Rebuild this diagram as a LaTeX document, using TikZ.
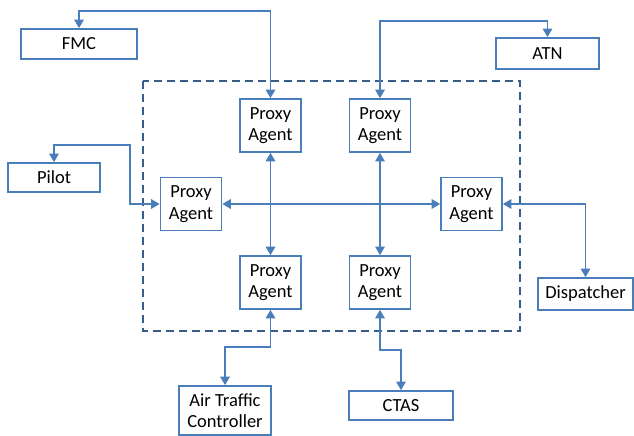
\documentclass[tikz,border=0pt]{standalone}
\usepackage{fontspec}
\setmainfont{Carlito}
\usepackage{xcolor}
\usepackage{tikz}
\usetikzlibrary{arrows.meta, positioning}

\definecolor{linkblue}{RGB}{74,126,187}
\definecolor{frameblue}{RGB}{56,93,138}

\begin{document}
\begin{tikzpicture}[x=1pt, y=-1pt,
  font=\fontsize{18.5}{21.5}\selectfont,
  block/.style={draw=linkblue, rectangle, line width=1.7pt, inner sep=0pt, align=center},
  proxy/.style={block, minimum width=61pt, minimum height=53pt},
  link/.style={{Triangle[length=8.5pt, width=9.5pt]}-{Triangle[length=8.5pt, width=9.5pt]}, linkblue, line width=1.5pt}
]
\useasboundingbox (0,0) rectangle (634,436);

% Dashed frame round the agents
\draw[frameblue, line width=1.8pt, dash pattern=on 8pt off 5pt] (143,81) rectangle (520,331);

% Proxy agents
\node[proxy] (ptl) at (270.5,125.5) {Proxy\\Agent};
\node[proxy] (ptr) at (380,125.5) {Proxy\\Agent};
\node[proxy] (pl) at (191,204) {Proxy\\Agent};
\node[proxy] (pr) at (471.5,204) {Proxy\\Agent};
\node[proxy] (pbl) at (270.5,282.5) {Proxy\\Agent};
\node[proxy] (pbr) at (380,282.5) {Proxy\\Agent};

% Outside parties
\node[block, minimum width=116pt, minimum height=30pt] (fmc) at (79,44) {FMC};
\node[block, minimum width=103pt, minimum height=31pt] (atn) at (547.5,53.5) {ATN};
\node[block, minimum width=92pt, minimum height=29pt] (pilot) at (54,177.5) {Pilot};
\node[block, minimum width=95pt, minimum height=32pt] (disp) at (585.5,294) {Dispatcher};
\node[block, minimum width=92pt, minimum height=49pt] (atc) at (225,410.5) {Air Traffic\\Controller};
\node[block, minimum width=104pt, minimum height=29pt] (ctas) at (401,405.5) {CTAS};

% Links between agents
\draw[link] (pl) -- (pr);
\draw[link] (ptl) -- (pbl);
\draw[link] (ptr) -- (pbr);

% Links to outside parties
\draw[link] (ptl.north) -- (ptl.north |- 0,11) -| (fmc.north);
\draw[link] (ptr.north) -- (ptr.north |- 0,21) -| (atn.north);
\draw[link] (pilot.north) |- (130,145) |- (pl.west);
\draw[link] (pr.east) -| (disp.north);
\draw[link] (pbl.south) -- (pbl.south |- 0,347) -| (atc.north);
\draw[link] (pbr.south) -- (pbr.south |- 0,350) -| (ctas.north);

\end{tikzpicture}
\end{document}
